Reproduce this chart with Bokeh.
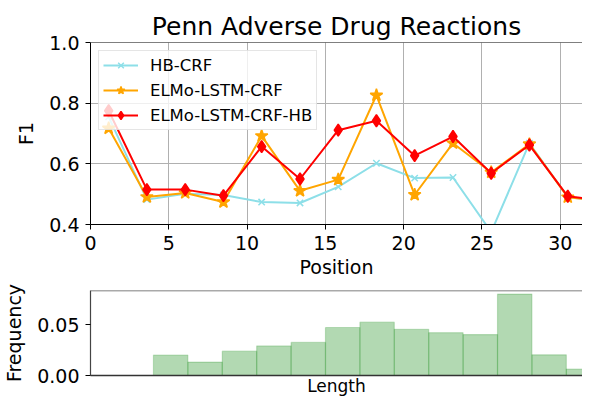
from bokeh.plotting import figure
from bokeh.layouts import column
from bokeh.models import FixedTicker, PrintfTickFormatter, Span
from bokeh.embed import file_html
from bokeh.resources import INLINE

# ---- data ----
positions = [1.16, 3.60, 6.05, 8.49, 10.93, 13.38, 15.82, 18.26, 20.70, 23.15, 25.59, 28.03, 30.48, 32.92]
hb_crf = [0.755, 0.482, 0.501, 0.497, 0.474, 0.471, 0.524, 0.602, 0.553, 0.555, 0.375, 0.668, 0.490, 0.476]
elmo_lstm_crf = [0.717, 0.491, 0.504, 0.474, 0.692, 0.511, 0.548, 0.826, 0.498, 0.668, 0.572, 0.665, 0.490, 0.476]
elmo_lstm_crf_hb = [0.775, 0.515, 0.515, 0.495, 0.657, 0.550, 0.711, 0.742, 0.627, 0.690, 0.569, 0.662, 0.493, 0.478]

series_names = ["HB-CRF", "ELMo-LSTM-CRF", "ELMo-LSTM-CRF-HB"]

hist_left = [0, 1, 2, 3, 4, 5, 6, 7, 8, 9, 10, 11, 12]
hist_right = [1, 2, 3, 4, 5, 6, 7, 8, 9, 10, 11, 12, 13]
hist_freq = [0.0201, 0.0132, 0.0239, 0.0290, 0.0325, 0.0471, 0.0523, 0.0454, 0.0420, 0.0402, 0.0799, 0.0203, 0.0064]

x_ticks = [0, 5, 10, 15, 20, 25, 30]
y_ticks = [0.4, 0.6, 0.8, 1.0]
freq_ticks = [0.0, 0.05]

X_MAX = 31.42
Y_MIN, Y_MAX = 0.4, 1.0
H_XMIN, H_XMAX = -1.83, 12.47
F_MAX = 0.0834

FONT = "DejaVu Sans"


def style_axis(ax):
    ax.axis_line_color = "black"
    ax.major_tick_line_color = "black"
    ax.major_tick_out = 5
    ax.major_tick_in = 0
    ax.minor_tick_line_color = None
    ax.major_label_text_font = FONT
    ax.major_label_text_font_size = "19px"
    ax.major_label_text_color = "black"
    ax.major_label_standoff = 6
    ax.axis_label_text_font = FONT
    ax.axis_label_text_font_size = "19px"
    ax.axis_label_text_font_style = "normal"
    ax.axis_label_text_color = "black"


# ---- top figure ----
p1 = figure(width=582, height=280, x_range=(0, X_MAX), y_range=(Y_MIN, Y_MAX),
            output_backend="svg", toolbar_location=None,
            min_border_left=90, min_border_right=0, min_border_top=42, min_border_bottom=56,
            title="Penn Adverse Drug Reactions")
p1.title.text_font = FONT
p1.title.text_font_size = "25px"
p1.title.text_font_style = "normal"
p1.title.align = "center"
p1.title.text_color = "black"
p1.title.standoff = 4

p1.outline_line_color = None
p1.background_fill_color = "white"

styles = [
    dict(color="#8ddfe8", marker="x", size=9),
    dict(color="orange", marker="star", size=13),
    dict(color="red", marker="diamond", size=12),
]
for name, vals, st in zip(series_names, [hb_crf, elmo_lstm_crf, elmo_lstm_crf_hb], styles):
    p1.line(positions, vals, line_color=st["color"], line_width=2, legend_label=name)
    p1.scatter(positions, vals, marker=st["marker"], size=st["size"], line_color=st["color"],
               fill_color=st["color"], line_width=1.5, legend_label=name)

style_axis(p1.xaxis[0])
style_axis(p1.yaxis[0])
p1.xaxis[0].axis_label_standoff = 3
p1.yaxis[0].axis_label_standoff = 9
p1.xaxis[0].ticker = FixedTicker(ticks=x_ticks)
p1.yaxis[0].ticker = FixedTicker(ticks=y_ticks)
p1.yaxis[0].formatter = PrintfTickFormatter(format="%.1f")
p1.xaxis[0].axis_label = "Position"
p1.yaxis[0].axis_label = "F1"

p1.grid.grid_line_color = "#b0b0b0"
p1.grid.grid_line_width = 1

p1.add_layout(Span(location=Y_MAX, dimension="width", line_color="black", line_width=1))

lg = p1.legend[0]
lg.location = "top_left"
lg.margin = 8
lg.padding = 4
lg.spacing = 5
lg.glyph_width = 35
lg.glyph_height = 20
lg.label_height = 20
lg.label_standoff = 12
lg.label_text_font = FONT
lg.label_text_font_size = "16.5px"
lg.label_text_color = "black"
lg.border_line_color = "#cccccc"
lg.border_line_width = 1
lg.background_fill_alpha = 0.8

# ---- histogram figure ----
p2 = figure(width=582, height=118, x_range=(H_XMIN, H_XMAX), y_range=(0, F_MAX),
            output_backend="svg", toolbar_location=None,
            min_border_left=90, min_border_right=0, min_border_top=10, min_border_bottom=10)
p2.quad(left=hist_left, right=hist_right, top=hist_freq, bottom=0,
        fill_color="green", fill_alpha=0.3, line_color="green", line_alpha=0.2, line_width=1.2)
p2.outline_line_color = None
p2.grid.visible = False
p2.add_layout(Span(location=F_MAX, dimension="width", line_color="#555555", line_width=1.6))

xa = p2.xaxis[0]
xa.ticker = FixedTicker(ticks=[])
xa.major_tick_out = 0
xa.major_tick_in = 0
xa.minor_tick_line_color = None
xa.major_label_text_font_size = "0px"
xa.major_label_standoff = 0
xa.axis_line_color = "#333333"
xa.axis_line_width = 1.6
xa.axis_label = "Length"
xa.axis_label_standoff = 0
xa.axis_label_text_font = FONT
xa.axis_label_text_font_size = "17px"
xa.axis_label_text_font_style = "normal"
xa.axis_label_text_color = "black"

ya = p2.yaxis[0]
style_axis(ya)
ya.axis_line_color = "#444444"
ya.axis_line_width = 1.2
ya.ticker = FixedTicker(ticks=freq_ticks)
ya.formatter = PrintfTickFormatter(format="%.2f")
ya.axis_label = "Frequency"
ya.axis_label_standoff = 9

layout = column(p1, p2, spacing=0)
open("out.html", "w").write(file_html(layout, INLINE))
